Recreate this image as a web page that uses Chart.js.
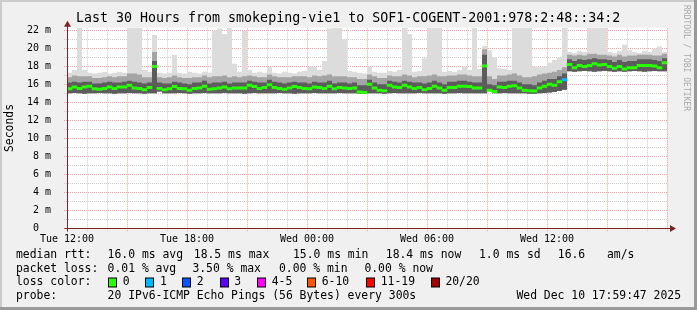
<!DOCTYPE html>
<html>
<head>
<meta charset="utf-8">
<script src="https://cdn.jsdelivr.net/npm/chart.js@4/dist/chart.umd.min.js"></script>
<style>
  html, body { margin: 0; padding: 0; background: #f0f0f0; }
</style>
</head>
<body>
<canvas id="chart" width="697" height="310"></canvas>
<script>
// one sample every 15 min, 30 hours starting Tue 12:00
const stepHours = 0.25;

const medianRtt = [
  15.5, 15.7, 15.55, 15.7, 15.8, 15.5, 15.45, 15.55, 15.7, 15.55,
  15.7, 15.7, 15.9, 15.6, 15.55, 15.4, 15.65, 18.0, 15.55, 15.4,
  15.5, 15.75, 15.55, 15.5, 15.35, 15.55, 15.6, 15.8, 15.45, 15.5,
  15.6, 15.7, 15.5, 15.6, 15.6, 15.6, 15.9, 15.75, 15.55, 15.65,
  15.95, 15.65, 15.55, 15.45, 15.6, 15.75, 15.65, 15.55, 15.5, 15.7,
  15.65, 15.55, 15.8, 15.5, 15.65, 15.6, 15.55, 15.6, 15.15, 15.1,
  16.0, 15.6, 15.35, 15.3, 15.9, 15.7, 15.65, 15.9, 15.7, 15.55,
  15.65, 15.4, 15.55, 15.8, 15.6, 15.35, 15.65, 15.65, 15.8, 15.8,
  15.75, 15.6, 15.6, 18.05, 15.35, 15.2, 15.7, 15.65, 15.8, 15.85,
  15.6, 15.35, 15.3, 15.25, 15.6, 15.8, 16.0, 15.9, 16.3, 16.5,
  18.2, 17.85, 18.1, 18.0, 18.1, 18.3, 18.15, 18.2, 18.0, 17.8,
  18.0, 17.7, 17.85, 17.85, 18.1, 18.1, 18.1, 18.05, 17.85, 18.4
];

const smokeMin = [
  15.0, 15.05, 15.0, 14.95, 15.0, 15.0, 15.05, 15.0, 15.0, 14.95,
  15.0, 15.0, 15.05, 15.0, 15.0, 14.95, 15.0, 15.0, 15.2, 15.0,
  15.0, 15.0, 15.05, 15.0, 14.95, 15.0, 15.0, 15.05, 15.0, 15.0,
  15.0, 15.05, 15.0, 15.0, 15.0, 14.95, 15.0, 15.05, 15.0, 15.0,
  15.0, 15.0, 15.05, 15.0, 15.0, 14.95, 15.0, 15.0, 15.0, 15.05,
  15.0, 15.0, 15.0, 15.0, 15.05, 15.0, 15.0, 15.0, 14.95, 14.95,
  15.0, 15.0, 15.0, 14.95, 15.0, 15.05, 15.0, 15.0, 15.0, 15.0,
  15.05, 15.0, 15.0, 15.0, 15.0, 14.95, 15.0, 15.0, 15.05, 15.0,
  15.0, 15.0, 15.0, 15.0, 15.3, 15.0, 15.0, 15.05, 15.0, 15.0,
  15.0, 15.0, 14.95, 14.95, 15.0, 15.05, 15.1, 15.15, 15.25, 15.4,
  17.45, 17.4, 17.45, 17.5, 17.45, 17.4, 17.45, 17.5, 17.45, 17.4,
  17.45, 17.4, 17.45, 17.5, 17.45, 17.4, 17.45, 17.5, 17.45, 17.45, 17.45
];

const smokeDark = [
  16.2, 16.3, 16.2, 16.3, 16.3, 16.1, 16.1, 16.2, 16.3, 16.2,
  16.2, 16.3, 16.4, 16.3, 16.2, 16.1, 16.2, 18.6, 16.2, 16.1,
  16.1, 16.3, 16.2, 16.1, 16.0, 16.2, 16.2, 16.4, 16.1, 16.2,
  16.2, 16.3, 16.1, 16.2, 16.2, 16.2, 16.4, 16.3, 16.2, 16.2,
  16.5, 16.3, 16.2, 16.1, 16.2, 16.3, 16.2, 16.2, 16.1, 16.3,
  16.2, 16.2, 16.4, 16.1, 16.2, 16.2, 16.1, 16.2, 15.9, 15.9,
  16.5, 16.2, 16.0, 16.0, 16.4, 16.3, 16.2, 16.4, 16.3, 16.2,
  16.2, 16.1, 16.2, 16.4, 16.2, 16.0, 16.3, 16.3, 16.4, 16.4,
  16.3, 16.2, 16.2, 19.3, 16.0, 15.9, 16.3, 16.3, 16.4, 16.4,
  16.2, 16.0, 16.0, 15.9, 16.2, 16.4, 16.6, 16.6, 16.9, 17.2,
  18.8, 18.6, 18.8, 18.7, 18.8, 18.9, 18.8, 18.8, 18.7, 18.5,
  18.7, 18.5, 18.6, 18.6, 18.8, 18.8, 18.8, 18.7, 18.6, 18.9, 18.9
];

const smokeMid = [
  16.8, 17.0, 16.9, 16.9, 16.9, 16.7, 16.7, 16.8, 16.9, 16.8,
  16.9, 16.9, 17.2, 17.2, 17.1, 16.8, 16.8, 19.6, 16.8, 16.7,
  16.8, 17.0, 16.8, 16.7, 16.7, 16.8, 16.8, 17.0, 16.8, 16.9,
  16.9, 17.0, 16.8, 16.9, 16.8, 16.9, 17.0, 16.9, 16.8, 16.8,
  17.1, 16.9, 16.8, 16.8, 16.8, 16.9, 16.9, 16.9, 16.8, 17.0,
  16.9, 17.0, 17.1, 16.9, 16.9, 16.9, 16.8, 16.8, 16.6, 16.6,
  17.1, 16.9, 16.7, 16.7, 17.0, 16.9, 16.9, 17.1, 17.0, 16.8,
  16.9, 16.9, 17.0, 17.1, 16.9, 16.9, 17.0, 17.0, 17.1, 17.1,
  17.0, 16.9, 16.9, 19.9, 16.9, 16.6, 17.0, 17.0, 17.1, 17.2,
  17.0, 16.8, 16.8, 16.9, 17.1, 17.2, 17.3, 17.4, 17.6, 17.9,
  19.3, 19.2, 19.3, 19.2, 19.4, 19.4, 19.3, 19.3, 19.2, 19.1,
  19.3, 19.1, 19.2, 19.2, 19.3, 19.3, 19.3, 19.2, 19.2, 19.4, 19.4
];

const smokeMax = [
  17.3, 17.6, 22.3, 17.6, 17.3, 17.2, 17.3, 17.4, 17.2, 17.3,
  17.4, 17.3, 22.3, 22.3, 22.3, 17.6, 17.4, 21.5, 17.3, 17.2,
  17.3, 19.3, 17.3, 17.2, 17.4, 17.3, 17.2, 17.4, 17.3, 22.0,
  22.2, 21.6, 22.3, 18.3, 17.4, 22.0, 17.6, 17.3, 17.4, 17.3,
  17.9, 17.3, 17.2, 17.4, 17.3, 17.2, 17.4, 17.5, 18.0, 18.0,
  17.6, 18.6, 22.2, 22.3, 22.3, 21.0, 17.5, 17.4, 17.3, 17.2,
  18.0, 17.4, 17.3, 17.3, 17.5, 17.4, 17.6, 22.3, 21.6, 17.4,
  17.5, 18.9, 22.3, 22.3, 22.3, 17.4, 17.5, 17.4, 17.6, 18.0,
  17.6, 22.3, 17.7, 20.3, 19.8, 19.0, 17.8, 17.7, 17.6, 22.3,
  22.3, 22.3, 22.3, 18.0, 17.9, 18.0, 18.4, 18.7, 19.0, 22.3,
  19.6, 19.5, 19.7, 19.6, 22.3, 22.3, 22.3, 22.3, 19.6, 19.5,
  19.7, 20.4, 19.8, 19.6, 19.5, 19.7, 19.6, 20.0, 20.2, 19.6, 19.6
];

// samples with packet loss (index, lost pings of 20)
const lossIdx = [99];
const lossCnt = [1];

const lossLabels = ["0", "1", "2", "3", "4-5", "6-10", "11-19", "20/20"];
const lossColors = ["#26ff00", "#00b8ff", "#0059ff", "#5e00ff", "#ff00ff", "#ff5500", "#ff0000", "#a00000"];

const hourTicks = [0, 1, 2, 3, 4, 5, 6, 7, 8, 9, 10, 11, 12, 13, 14, 15, 16, 17, 18, 19, 20, 21, 22, 23, 24, 25, 26, 27, 28, 29, 30];
const labelHours = [0, 6, 12, 18, 24];
const labelText = ["Tue 12:00", "Tue 18:00", "Wed 00:00", "Wed 06:00", "Wed 12:00"];
const yTicks = [0, 1, 2, 3, 4, 5, 6, 7, 8, 9, 10, 11, 12, 13, 14, 15, 16, 17, 18, 19, 20, 21, 22];

const titleText = "Last 30 Hours from smokeping-vie1 to SOF1-COGENT-2001:978:2:48::34:2";
const rttStats = ["16.0 ms avg", "18.5 ms max", "15.0 ms min", "18.4 ms now", "1.0 ms sd", "16.6", "am/s"];
const lossStats = ["0.01 % avg", "3.50 % max", "0.00 % min", "0.00 % now"];
const probeText = "20 IPv6-ICMP Echo Pings (56 Bytes) every 300s";
const stampText = "Wed Dec 10 17:59:47 2025";

const MONO = "'DejaVu Sans Mono', monospace";
const majorGrid = "#f5a0a0";
const minorGrid = "#cccccc";
const axisColor = "#7a2424";
const medianHalf = 0.13; // half thickness of the median stroke, ms

const pts = arr => arr.map((v, i) => ({ x: i * stepHours, y: v }));

function lossColorAt(i) {
    const k = lossIdx.indexOf(i);
    if (k < 0) return lossColors[0];
    const n = lossCnt[k];
    if (n >= 20) return lossColors[7];
    if (n >= 11) return lossColors[6];
    if (n >= 6) return lossColors[5];
    if (n >= 4) return lossColors[4];
    return lossColors[n];
}

// median drawn smokeping-style: a short bar per interval, no vertical joins
const medianBars = medianRtt.map((v, i) => ({ x: (i + 0.5) * stepHours, y: [v - medianHalf, v + medianHalf] }));
const medianColors = medianRtt.map((v, i) => lossColorAt(i));

// chart.js "before" keeps each value flat until the next sample
const smoke = (data, color, order) => ({
    type: "line",
    data: pts(data),
    borderWidth: 0,
    pointRadius: 0,
    stepped: "before",
    fill: color ? 1 : false,
    backgroundColor: color || "transparent",
    order
});

const frame = {
    id: "frame",
    beforeDraw(chart) {
        const { ctx, chartArea: a } = chart;
        ctx.save();
        ctx.fillStyle = "#f0f0f0";
        ctx.fillRect(0, 0, 697, 310);
        ctx.fillStyle = "#cbcbcb";
        ctx.fillRect(0, 0, 697, 2);
        ctx.fillRect(0, 0, 2, 310);
        ctx.fillStyle = "#999999";
        ctx.fillRect(0, 307, 697, 3);
        ctx.fillRect(694, 0, 3, 310);
        ctx.fillStyle = "#ffffff";
        ctx.fillRect(a.left, a.top, a.right - a.left, a.bottom - a.top);
        ctx.restore();
    },
    beforeDatasetsDraw(chart) {
        // dotted grid: red every 3 h / 2 ms, grey in between
        const { ctx, chartArea: a, scales } = chart;
        ctx.save();
        ctx.lineWidth = 1;
        ctx.setLineDash([1, 1]);
        hourTicks.forEach(v => {
            const x = Math.round(scales.x.getPixelForValue(v)) + 0.5;
            ctx.strokeStyle = v % 3 === 0 ? majorGrid : minorGrid;
            ctx.beginPath();
            ctx.moveTo(x, a.bottom + 3);
            ctx.lineTo(x, a.top);
            ctx.stroke();
        });
        yTicks.forEach(v => {
            const y = Math.round(scales.y.getPixelForValue(v)) + 0.5;
            ctx.strokeStyle = v % 2 === 0 ? majorGrid : minorGrid;
            ctx.beginPath();
            ctx.moveTo(a.left - 3, y);
            ctx.lineTo(a.right, y);
            ctx.stroke();
        });
        ctx.restore();
    },
    afterDraw(chart) {
        const { ctx, chartArea: a } = chart;
        ctx.save();
        // axes with arrows
        ctx.strokeStyle = axisColor;
        ctx.fillStyle = axisColor;
        ctx.lineWidth = 1;
        const ax = Math.round(a.left) + 0.5, ay = Math.round(a.bottom) + 0.5;
        ctx.beginPath();
        ctx.moveTo(ax - 3, ay); ctx.lineTo(a.right + 6, ay);
        ctx.moveTo(ax, ay + 3); ctx.lineTo(ax, a.top - 3);
        ctx.stroke();
        ctx.beginPath();
        ctx.moveTo(ax - 3.5, a.top - 1); ctx.lineTo(ax + 3.5, a.top - 1); ctx.lineTo(ax, a.top - 7);
        ctx.closePath(); ctx.fill();
        ctx.beginPath();
        ctx.moveTo(a.right + 3, ay - 3.5); ctx.lineTo(a.right + 3, ay + 3.5); ctx.lineTo(a.right + 9, ay);
        ctx.closePath(); ctx.fill();

        // title
        ctx.fillStyle = "#000";
        ctx.textBaseline = "middle";
        ctx.textAlign = "left";
        ctx.font = "13.3px " + MONO;
        ctx.fillText(titleText, 76, 19);

        // legend block
        ctx.font = "11.4px " + MONO;
        const r1 = 255.5, r2 = 269, r3 = 282.5, r4 = 296;
        ctx.fillText("median rtt:", 16, r1);
        [107.6, 193.8, 293, 385.8, 479, 557.8, 607].forEach((x, i) => ctx.fillText(rttStats[i], x, r1));
        ctx.fillText("packet loss:", 16, r2);
        [107.6, 192.4, 279, 364.4].forEach((x, i) => ctx.fillText(lossStats[i], x, r2));
        ctx.fillText("loss color:", 16, r3);
        const boxX = [108, 145.3, 182, 219.6, 257, 307, 366, 430.7];
        boxX.forEach((x, i) => {
            const bx = Math.round(x) + 0.5;
            ctx.fillStyle = lossColors[i];
            ctx.fillRect(bx, r3 - 4.5, 8, 9);
            ctx.strokeStyle = "#000";
            ctx.strokeRect(bx, r3 - 4.5, 8, 9);
            ctx.fillStyle = "#000";
            ctx.fillText(lossLabels[i], x + 14.7, r3);
        });
        ctx.fillText("probe:", 16, r4);
        ctx.fillText(probeText, 107.6, r4);
        ctx.textAlign = "right";
        ctx.fillText(stampText, 681, r4);

        // vertical watermark
        ctx.translate(683, 5);
        ctx.rotate(Math.PI / 2);
        ctx.textAlign = "left";
        ctx.textBaseline = "middle";
        ctx.font = "8px " + MONO;
        ctx.fillStyle = "#a8a8a8";
        ctx.fillText("RRDTOOL / TOBI OETIKER", 0, -3.5);
        ctx.restore();
    }
};

new Chart(document.getElementById("chart"), {
    type: "line",
    data: {
        datasets: [
            {
                type: "bar",
                data: medianBars,
                backgroundColor: medianColors,
                borderWidth: 0,
                barPercentage: 1,
                categoryPercentage: 1,
                grouped: false,
                order: 0
            },
            smoke(smokeMin, null, 5),
            smoke(smokeDark, "#5c5c5c", 2),
            smoke(smokeMid, "#a4a4a4", 3),
            smoke(smokeMax, "#dcdcdc", 4)
        ]
    },
    options: {
        responsive: false,
        animation: false,
        devicePixelRatio: 1,
        layout: { padding: { top: 27.7, right: 30, left: 0, bottom: 0 } },
        plugins: {
            legend: { display: false },
            tooltip: { enabled: false },
            title: { display: false }
        },
        scales: {
            x: {
                type: "linear",
                min: 0,
                max: 30,
                offset: false,
                afterBuildTicks: s => { s.ticks = hourTicks.map(v => ({ value: v })); },
                afterFit: s => { s.height = 81.7; },
                ticks: {
                    autoSkip: false,
                    maxRotation: 0,
                    padding: -3,
                    color: "#000",
                    font: { family: MONO, size: 10 },
                    callback: v => {
                        const k = labelHours.indexOf(v);
                        return k >= 0 ? labelText[k] : "";
                    }
                },
                grid: { display: false },
                border: { display: false }
            },
            y: {
                min: 0,
                max: 22.3,
                afterBuildTicks: s => { s.ticks = yTicks.map(v => ({ value: v })); },
                afterFit: s => { s.width = 67; },
                ticks: {
                    autoSkip: false,
                    padding: 8,
                    color: "#000",
                    font: { family: MONO, size: 10 },
                    callback: v => (v === 0 ? "0  " : v % 2 === 0 ? v + " m" : "")
                },
                grid: { display: false },
                border: { display: false },
                title: {
                    display: true,
                    text: "Seconds",
                    color: "#000",
                    font: { family: MONO, size: 11.4 },
                    padding: { top: 3, bottom: 0 }
                }
            }
        }
    },
    plugins: [frame]
});
</script>
</body>
</html>
